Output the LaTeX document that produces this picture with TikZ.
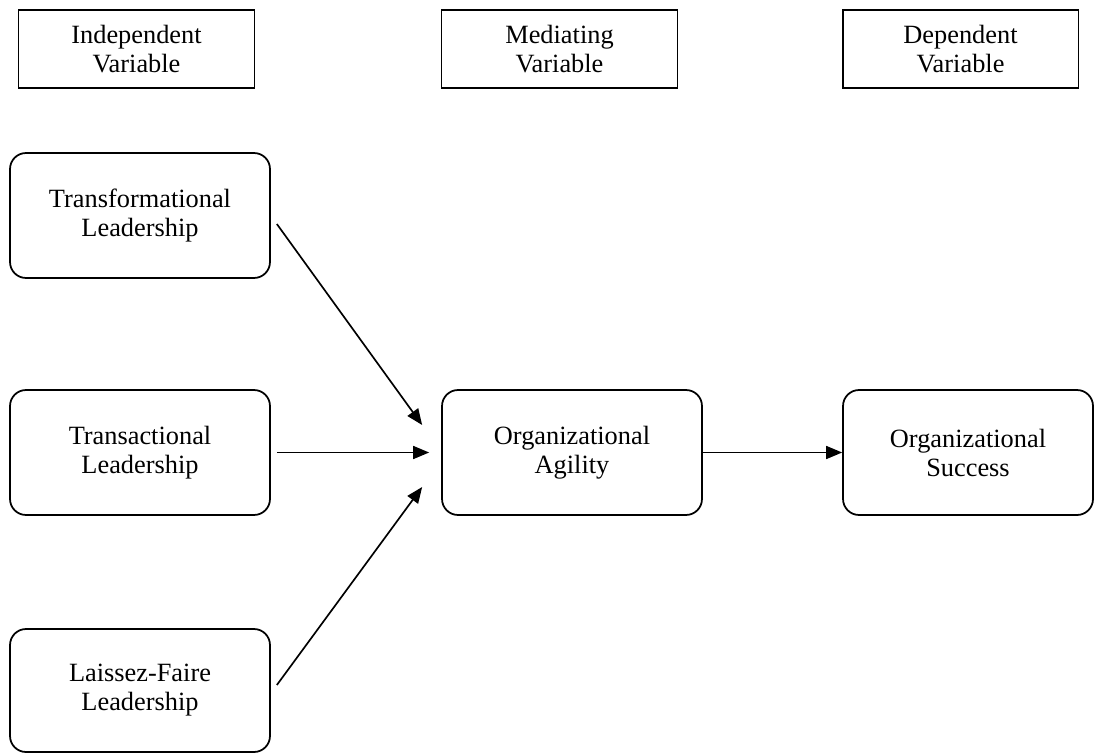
\documentclass[tikz,border=0pt]{standalone}
\usepackage{fontspec}
\setmainfont{Liberation Serif}
\usetikzlibrary{arrows.meta}

\begin{document}
\begin{tikzpicture}[x=0.02cm, y=-0.02cm,
	headbox/.style={draw, line width=1.1pt, minimum width=4.72cm, minimum height=1.56cm, align=center, font=\fontsize{15}{16.5}\selectfont},
	factor/.style={draw, line width=1pt, rounded corners=0.32cm, minimum width=5.2cm, minimum height=2.5cm, align=center, font=\fontsize{15}{16.5}\selectfont},
	link/.style={line width=0.95pt, -{Triangle[length=0.32cm, width=0.26cm]}}]
	\useasboundingbox (0, 0) rectangle (1094, 753);
	% column heads
	\node[headbox] (indep) at (136.5, 49) {Independent\\Variable};
	\node[headbox] (mediat) at (559.5, 49) {Mediating\\Variable};
	\node[headbox] (depend) at (960.5, 49) {Dependent\\Variable};
	% leadership styles
	\node[factor] (transf) at (140, 215.5) {Transformational\\Leadership};
	\node[factor] (transa) at (140, 452.5) {Transactional\\Leadership};
	\node[factor, minimum height=2.46cm] (laissez) at (140, 690.5) {Laissez-Faire\\Leadership};
	% mediator and outcome
	\node[factor] (agility) at (572, 452.5) {Organizational\\Agility};
	\node[factor, minimum width=5cm] (success) at (968, 452.5) {Organizational\\Success};
	% arrows
	\draw[link] ([shift={(6, 8.5)}]transf.east) -- ([shift={(-19, -27.5)}]agility.west);
	\draw[link, shorten <=6*0.02cm, shorten >=12*0.02cm] (transa) -- (agility);
	\draw[link] ([shift={(6, -5.5)}]laissez.east) -- ([shift={(-19, 34.5)}]agility.west);
	\draw[link] (agility) -- (success);
\end{tikzpicture}
\end{document}
